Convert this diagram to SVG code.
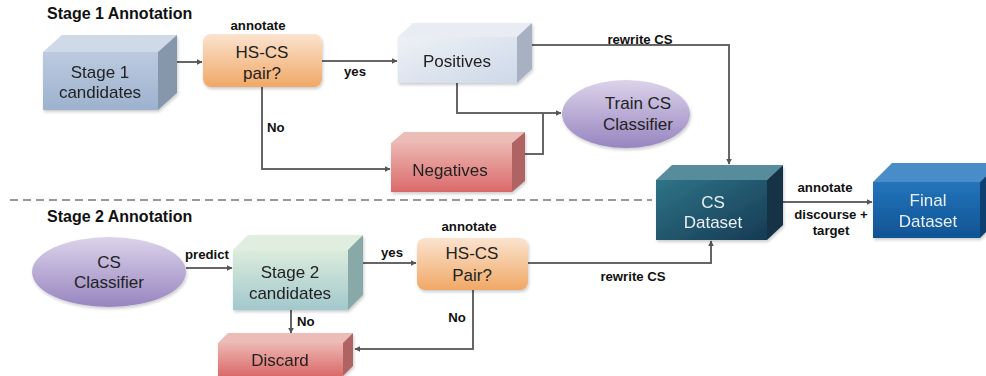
<svg xmlns="http://www.w3.org/2000/svg" width="986" height="376" viewBox="0 0 986 376">
<defs>
<style>
.lbl{font-family:"Liberation Sans",Arial,sans-serif;font-size:13.2px;font-weight:bold;fill:#111;text-anchor:middle}
.hd{font-family:"Liberation Sans",Arial,sans-serif;font-size:16px;font-weight:bold;fill:#111}
.nt{font-family:"Liberation Sans",Arial,sans-serif;font-size:17px;fill:#222;text-anchor:middle}
.nw{font-family:"Liberation Sans",Arial,sans-serif;font-size:17px;fill:#e8f0f6;text-anchor:middle}
.edge{fill:none;stroke:#666;stroke-width:2}
</style>
<marker id="ah" viewBox="0 0 10 10" refX="9" refY="5" markerWidth="6" markerHeight="6" orient="auto" markerUnits="userSpaceOnUse">
<path d="M0,0 L10,5 L0,10 z" fill="#555"/>
</marker>
<filter id="sh" x="-10%" y="-10%" width="130%" height="130%">
<feDropShadow dx="1" dy="2" stdDeviation="1.5" flood-color="#000" flood-opacity="0.2"/>
</filter>
<linearGradient id="gS1" x1="0" y1="0" x2="0" y2="1"><stop offset="0" stop-color="#bccadf"/><stop offset="1" stop-color="#9db2cf"/></linearGradient>
<linearGradient id="gOr" x1="0" y1="0" x2="0" y2="1"><stop offset="0" stop-color="#fbe3cf"/><stop offset="1" stop-color="#f0a866"/></linearGradient>
<linearGradient id="gPos" x1="0" y1="0" x2="1" y2="1"><stop offset="0" stop-color="#eef1f6"/><stop offset="1" stop-color="#cdd8e8"/></linearGradient>
<linearGradient id="gNeg" x1="0" y1="0" x2="0" y2="1"><stop offset="0" stop-color="#edb7b2"/><stop offset="1" stop-color="#da6a6a"/></linearGradient>
<linearGradient id="gPur" x1="0" y1="0" x2="0" y2="1"><stop offset="0" stop-color="#dcd3ea"/><stop offset="1" stop-color="#9785c0"/></linearGradient>
<linearGradient id="gCS" x1="0" y1="0" x2="1" y2="1"><stop offset="0" stop-color="#2f7487"/><stop offset="1" stop-color="#163a54"/></linearGradient>
<linearGradient id="gFin" x1="0" y1="0" x2="0" y2="1"><stop offset="0" stop-color="#2474bb"/><stop offset="1" stop-color="#0f5394"/></linearGradient>
<linearGradient id="gS2" x1="0" y1="0" x2="0" y2="1"><stop offset="0" stop-color="#dcecdc"/><stop offset="1" stop-color="#a2c8cd"/></linearGradient>
</defs>
<rect width="986" height="376" fill="#fff"/>

<text class="hd" x="47" y="19">Stage 1 Annotation</text>
<text class="hd" x="47" y="222">Stage 2 Annotation</text>
<path d="M10 200 H652" stroke="#777" stroke-width="1.5" stroke-dasharray="8 5" fill="none"/>

<g id="connectors">
<path class="edge" d="M177 62 H202" marker-end="url(#ah)"/>
<path class="edge" d="M322 61 H397" marker-end="url(#ah)"/>
<path class="edge" d="M262 87 V169 H390" marker-end="url(#ah)"/>
<path class="edge" d="M532 45 H729 V164" marker-end="url(#ah)"/>
<path class="edge" d="M457 83 V113 H561" marker-end="url(#ah)"/>
<path class="edge" d="M525 154 H543 V113"/>
<path class="edge" d="M783 202 H872" marker-end="url(#ah)"/>
<path class="edge" d="M186 268 H232" marker-end="url(#ah)"/>
<path class="edge" d="M291 310 V333" marker-end="url(#ah)"/>
<path class="edge" d="M363 263 H416" marker-end="url(#ah)"/>
<path class="edge" d="M528 263 H711 V241" marker-end="url(#ah)"/>
<path class="edge" d="M473 290 V349 H355" marker-end="url(#ah)"/>
<text class="lbl" x="355" y="76">yes</text>
<text class="lbl" x="267" y="132" style="text-anchor:start">No</text>
<text class="lbl" x="640" y="44">rewrite CS</text>
<text class="lbl" x="825" y="192">annotate</text>
<text class="lbl" x="831" y="219">discourse +</text>
<text class="lbl" x="831" y="235">target</text>
<text class="lbl" x="207" y="259">predict</text>
<text class="lbl" x="297" y="326" style="text-anchor:start">No</text>
<text class="lbl" x="392" y="257">yes</text>
<text class="lbl" x="633" y="281">rewrite CS</text>
<text class="lbl" x="457" y="322">No</text>
</g>

<g id="stage1-candidates" filter="url(#sh)">
<rect x="43" y="52" width="115" height="58" fill="url(#gS1)"/>
<path d="M43 52 L62 35 H177 L158 52 Z" fill="#cfd9e7"/>
<path d="M158 52 L177 35 V93 L158 110 Z" fill="#8797ab"/>
<text class="nt" x="100" y="78">Stage 1</text>
<text class="nt" x="100" y="98">candidates</text>
</g>

<g id="hscs-pair-1">
<text class="lbl" x="258" y="30">annotate</text>
<rect x="203" y="34" width="119" height="53" rx="8" fill="url(#gOr)" filter="url(#sh)"/>
<text class="nt" x="262" y="58">HS-CS</text>
<text class="nt" x="262" y="79">pair?</text>
</g>

<g id="positives" filter="url(#sh)">
<rect x="398" y="37" width="119" height="46" fill="url(#gPos)"/>
<path d="M398 37 L413 23 H532 L517 37 Z" fill="#e9edf3"/>
<path d="M517 37 L532 23 V69 L517 83 Z" fill="#a7b1c2"/>
<text class="nt" x="457" y="67">Positives</text>
</g>

<g id="train-cs-classifier">
<ellipse cx="626" cy="114" rx="64" ry="34" fill="url(#gPur)" filter="url(#sh)"/>
<text class="nt" x="638" y="109">Train CS</text>
<text class="nt" x="638" y="130">Classifier</text>
</g>

<g id="negatives" filter="url(#sh)">
<rect x="391" y="143" width="121" height="49" fill="url(#gNeg)"/>
<path d="M391 143 L404 132 H525 L512 143 Z" fill="#ecbcb7"/>
<path d="M512 143 L525 132 V181 L512 192 Z" fill="#b06363"/>
<text class="nt" x="450" y="176">Negatives</text>
</g>

<g id="cs-dataset" filter="url(#sh)">
<rect x="656" y="180" width="111" height="60" fill="url(#gCS)"/>
<path d="M656 180 L672 165 H783 L767 180 Z" fill="#578c9b"/>
<path d="M767 180 L783 165 V225 L767 240 Z" fill="#163347"/>
<text class="nw" x="713" y="208">CS</text>
<text class="nw" x="713" y="228">Dataset</text>
</g>

<g id="final-dataset" filter="url(#sh)">
<rect x="873" y="182" width="107" height="56" fill="url(#gFin)"/>
<path d="M873 182 L892 163 H999 L980 182 Z" fill="#4a8dc8"/>
<path d="M980 182 L999 163 V219 L980 238 Z" fill="#0d3f70"/>
<text class="nw" x="928" y="206">Final</text>
<text class="nw" x="928" y="227">Dataset</text>
</g>

<g id="cs-classifier">
<ellipse cx="109" cy="272" rx="77" ry="35" fill="url(#gPur)" filter="url(#sh)"/>
<text class="nt" x="109" y="268">CS</text>
<text class="nt" x="109" y="288">Classifier</text>
</g>

<g id="stage2-candidates" filter="url(#sh)">
<rect x="233" y="250" width="115" height="60" fill="url(#gS2)"/>
<path d="M233 250 L248 235 H363 L348 250 Z" fill="#dfeedf"/>
<path d="M348 250 L363 235 V295 L348 310 Z" fill="#88a9a8"/>
<text class="nt" x="290" y="278">Stage 2</text>
<text class="nt" x="290" y="299">candidates</text>
</g>

<g id="hscs-pair-2">
<text class="lbl" x="469" y="231">annotate</text>
<rect x="417" y="238" width="111" height="52" rx="8" fill="url(#gOr)" filter="url(#sh)"/>
<text class="nt" x="472" y="259">HS-CS</text>
<text class="nt" x="472" y="281">Pair?</text>
</g>

<g id="discard" filter="url(#sh)">
<rect x="218" y="343" width="125" height="33" fill="url(#gNeg)"/>
<path d="M218 343 L228 333 H353 L343 343 Z" fill="#ecbcb7"/>
<path d="M343 343 L353 333 V366 L343 376 Z" fill="#b06363"/>
<text class="nt" x="280" y="366">Discard</text>
</g>
</svg>
